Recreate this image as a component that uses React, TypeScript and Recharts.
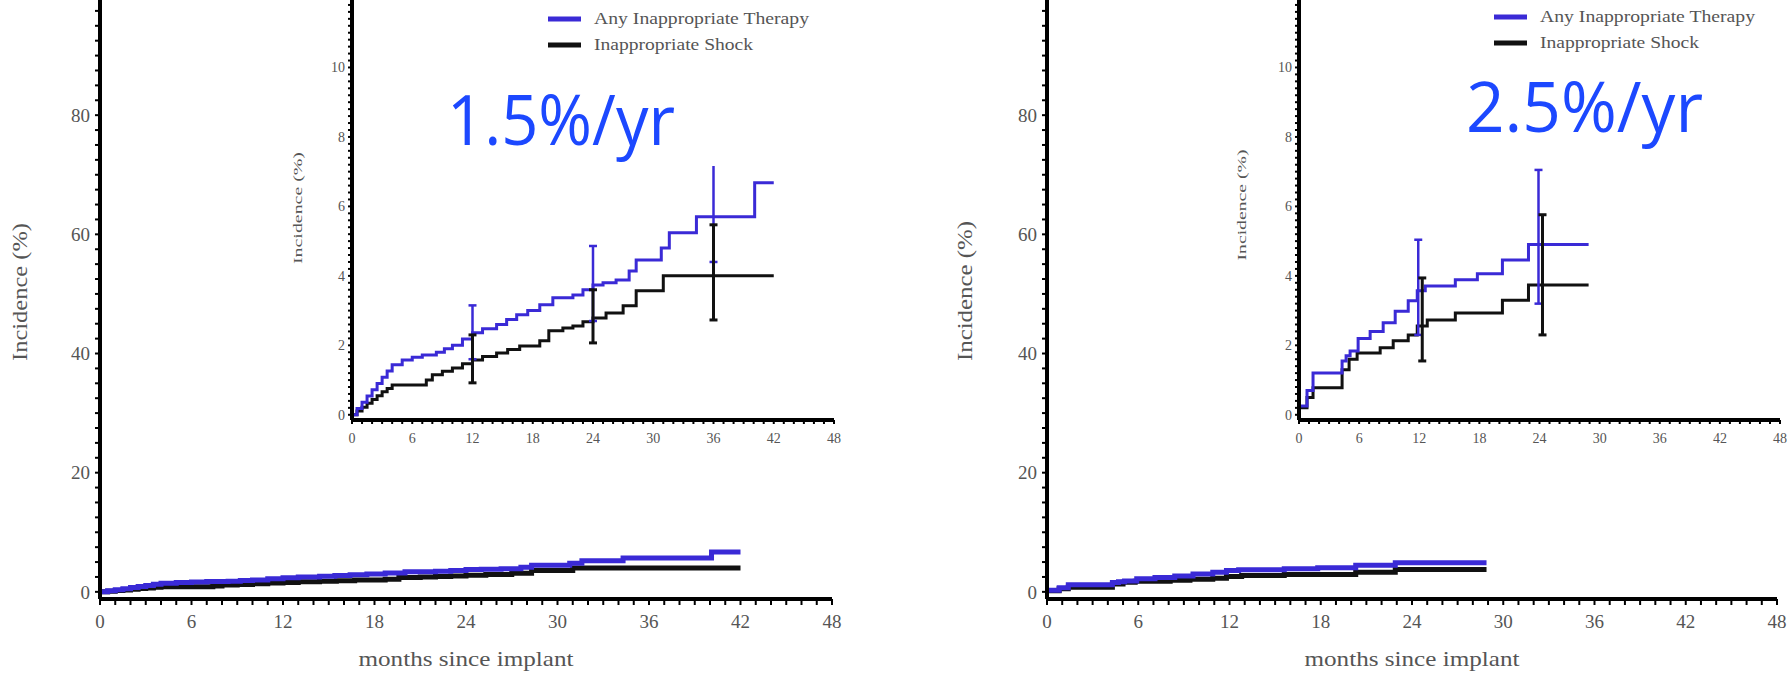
import { ComposedChart, Line, Scatter, ErrorBar, XAxis, YAxis } from 'recharts';

const BLUE = '#3a2ad6';
const RATE_BLUE = '#1c48ff';
const INK = '#111111';
const GREY = '#555555';
const SERIF = '"Liberation Serif", "Times New Roman", serif';

// tick labels
const X_LABELS = [0, 6, 12, 18, 24, 30, 36, 42, 48];
const MAIN_Y_LABELS = [0, 20, 40, 60, 80];
const INSET_Y_LABELS = [0, 2, 4, 6, 8, 10];

// left panel: Any Inappropriate Therapy (months, %)
const leftTherapyMonths = [0, 0.5, 1, 1.5, 2, 2.5, 3, 3.5, 4, 5, 6, 7, 8.4, 9.2, 10, 11, 12, 13, 14.4, 15.4, 16.4, 17.5, 18.7, 20, 22, 23, 24, 25, 26.3, 27.6, 28.3, 30.8, 31.6, 34.3, 40.1, 42];
const leftTherapyPct = [0, 0.18, 0.36, 0.54, 0.72, 0.9, 1.08, 1.26, 1.44, 1.58, 1.66, 1.72, 1.8, 1.9, 2.0, 2.18, 2.36, 2.48, 2.6, 2.74, 2.88, 3.0, 3.17, 3.37, 3.45, 3.6, 3.74, 3.8, 3.88, 4.14, 4.46, 4.8, 5.24, 5.7, 6.68, 6.68];
// left panel: Inappropriate Shock
const leftShockMonths = [0, 0.5, 1, 1.5, 2, 2.5, 3, 3.5, 4, 7.4, 8, 9, 10, 11, 12, 13, 14.4, 15.5, 16.7, 18.7, 19.6, 21, 22, 23, 24, 25.3, 27, 28.3, 31, 42];
const leftShockPct = [0, 0.11, 0.22, 0.33, 0.44, 0.55, 0.66, 0.76, 0.86, 1.0, 1.15, 1.25, 1.35, 1.47, 1.58, 1.68, 1.78, 1.88, 1.98, 2.13, 2.42, 2.5, 2.56, 2.68, 2.79, 2.93, 3.14, 3.57, 4.0, 4.0];
// left panel confidence bars
const leftTherapyBarMonths = [12, 24, 36];
const leftTherapyBarLow = [1.6, 2.7, 4.4];
const leftTherapyBarHigh = [3.15, 4.86, 7.6];
const leftShockBarMonths = [12, 24, 36];
const leftShockBarLow = [0.92, 2.07, 2.73];
const leftShockBarHigh = [2.3, 3.6, 5.47];

// right panel: Any Inappropriate Therapy
const rightTherapyMonths = [0, 0.8, 1.4, 4.3, 4.7, 5.1, 5.9, 7.1, 8.4, 9.6, 10.9, 11.8, 12.6, 15.6, 17.8, 20.3, 22.9, 28.9];
const rightTherapyPct = [0.25, 0.7, 1.2, 1.55, 1.7, 1.84, 2.2, 2.4, 2.65, 2.98, 3.28, 3.57, 3.71, 3.89, 4.06, 4.46, 4.9, 4.9];
// right panel: Inappropriate Shock
const rightShockMonths = [0, 0.8, 1.4, 4.3, 5, 5.8, 8.1, 9.4, 10.9, 11.8, 12.8, 15.6, 20.3, 22.9, 28.9];
const rightShockPct = [0.2, 0.5, 0.78, 1.3, 1.6, 1.78, 1.93, 2.13, 2.3, 2.56, 2.73, 2.93, 3.3, 3.74, 3.74];
// right panel confidence bars
const rightTherapyBarMonths = [11.9, 23.9];
const rightTherapyBarLow = [2.3, 3.2];
const rightTherapyBarHigh = [5.04, 7.05];
const rightShockBarMonths = [12.3, 24.3];
const rightShockBarLow = [1.55, 2.3];
const rightShockBarHigh = [3.94, 5.76];

const X_TICKS = Array.from({ length: 49 }, (_, i) => i);
const MAIN_Y_TICKS = Array.from({ length: 41 }, (_, i) => i * 2.5);
const INSET_Y_TICKS = Array.from({ length: 61 }, (_, i) => Math.round(i * 2) / 10);

type Pt = { m: number; v: number };
type BarPt = { m: number; v: number; err: [number, number] };

const steps = (months: number[], pct: number[]): Pt[] => months.map((m, i) => ({ m, v: pct[i] }));

// value at a month, with asymmetric error
const bars = (months: number[], lo: number[], hi: number[], curveM: number[], curveV: number[]): BarPt[] =>
  months.map((m, i) => {
    let v = curveV[0];
    curveM.forEach((cm, j) => { if (cm <= m + 0.35) v = curveV[j]; });
    return { m, v, err: [v - lo[i], hi[i] - v] };
  });

const leftTherapy = steps(leftTherapyMonths, leftTherapyPct);
const leftShock = steps(leftShockMonths, leftShockPct);
const rightTherapy = steps(rightTherapyMonths, rightTherapyPct);
const rightShock = steps(rightShockMonths, rightShockPct);
const leftTherapyBars = bars(leftTherapyBarMonths, leftTherapyBarLow, leftTherapyBarHigh, leftTherapyMonths, leftTherapyPct);
const leftShockBars = bars(leftShockBarMonths, leftShockBarLow, leftShockBarHigh, leftShockMonths, leftShockPct);
const rightTherapyBars = bars(rightTherapyBarMonths, rightTherapyBarLow, rightTherapyBarHigh, rightTherapyMonths, rightTherapyPct);
const rightShockBars = bars(rightShockBarMonths, rightShockBarLow, rightShockBarHigh, rightShockMonths, rightShockPct);

interface ChartProps {
  left: number;
  top: number;
  width: number;
  height: number;
  yAxisWidth: number;
  xAxisHeight: number;
  inset?: boolean;
  therapy: Pt[];
  shock: Pt[];
  therapyBars?: BarPt[];
  shockBars?: BarPt[];
}

function KMChart({ left, top, width, height, yAxisWidth, xAxisHeight, inset, therapy, shock, therapyBars, shockBars }: ChartProps) {
  const fontSize = inset ? 14 : 19;
  const yTicks = inset ? INSET_Y_TICKS : MAIN_Y_TICKS;
  const yLabels = inset ? INSET_Y_LABELS : MAIN_Y_LABELS;
  const lw = inset ? 3 : 5;
  return (
    <div style={{ position: 'absolute', left, top }}>
      <ComposedChart width={width} height={height} margin={{ top: 0, right: 10, bottom: 0, left: 0 }}>
        <XAxis
          type="number" dataKey="m" domain={[0, 48]} ticks={X_TICKS} interval={0} allowDataOverflow
          height={xAxisHeight}
          tickFormatter={(v) => (X_LABELS.includes(v) ? String(v) : '')}
          axisLine={{ stroke: '#000', strokeWidth: 4 }}
          tickLine={{ stroke: '#000', strokeWidth: 2 }}
          tickSize={inset ? 4 : 6} tickMargin={inset ? 9 : 10}
          tick={{ fill: GREY, fontSize, fontFamily: SERIF }}
        />
        <YAxis
          type="number" dataKey="v" domain={inset ? [-0.15, 12] : [-1.2, 100]} ticks={yTicks} interval={0} allowDataOverflow
          width={yAxisWidth}
          tickFormatter={(v) => (yLabels.some(l => Math.abs(l - v) < 1e-6) ? String(Math.round(v)) : '')}
          axisLine={{ stroke: '#000', strokeWidth: 4 }}
          tickLine={{ stroke: '#000', strokeWidth: 2 }}
          tickSize={inset ? 4 : 5} tickMargin={inset ? 3 : 5}
          tick={{ fill: GREY, fontSize, fontFamily: SERIF }}
        />
        <Line data={shock} dataKey="v" type="stepAfter" stroke={INK} strokeWidth={lw} dot={false} isAnimationActive={false} />
        <Line data={therapy} dataKey="v" type="stepAfter" stroke={BLUE} strokeWidth={lw} dot={false} isAnimationActive={false} />
        {therapyBars && (
          <Scatter data={therapyBars} dataKey="v" shape={() => <g />} isAnimationActive={false}>
            <ErrorBar dataKey="err" direction="y" width={4} stroke={BLUE} strokeWidth={2.5} />
          </Scatter>
        )}
        {shockBars && (
          <Scatter data={shockBars} dataKey="v" shape={() => <g />} isAnimationActive={false}>
            <ErrorBar dataKey="err" direction="y" width={4} stroke={INK} strokeWidth={3} />
          </Scatter>
        )}
      </ComposedChart>
    </div>
  );
}

function VLabel({ x, y, size, len, text }: { x: number; y: number; size: number; len: number; text: string }) {
  return (
    <text transform={`translate(${x},${y}) rotate(-90)`} textAnchor="middle" dominantBaseline="central"
      fontFamily={SERIF} fontSize={size} fill={GREY} textLength={len} lengthAdjust="spacingAndGlyphs">{text}</text>
  );
}

function LegendBlock({ x, y }: { x: number; y: number }) {
  return (
    <g>
      <line x1={x} x2={x + 33} y1={y} y2={y} stroke={BLUE} strokeWidth={5} />
      <text x={x + 46} y={y + 5} fontFamily={SERIF} fontSize={16} fill={GREY} textLength={215} lengthAdjust="spacingAndGlyphs">Any Inappropriate Therapy</text>
      <line x1={x} x2={x + 33} y1={y + 26} y2={y + 26} stroke={INK} strokeWidth={5} />
      <text x={x + 46} y={y + 31} fontFamily={SERIF} fontSize={16} fill={GREY} textLength={159} lengthAdjust="spacingAndGlyphs">Inappropriate Shock</text>
    </g>
  );
}

export default function App() {
  return (
    <div style={{ position: 'absolute', left: 0, top: 0, width: 1787, height: 678, overflow: 'hidden', background: '#fff' }}>
      {/* left panel */}
      <KMChart left={0} top={-4} width={842} height={682} yAxisWidth={100} xAxisHeight={79}
        therapy={leftTherapy} shock={leftShock} />
      <KMChart left={312} top={-2} width={532} height={452} yAxisWidth={40} xAxisHeight={30} inset
        therapy={leftTherapy} shock={leftShock} therapyBars={leftTherapyBars} shockBars={leftShockBars} />

      {/* right panel */}
      <KMChart left={947} top={-4} width={840} height={682} yAxisWidth={100} xAxisHeight={79}
        therapy={rightTherapy} shock={rightShock} />
      <KMChart left={1259} top={-2} width={531} height={452} yAxisWidth={40} xAxisHeight={30} inset
        therapy={rightTherapy} shock={rightShock} therapyBars={rightTherapyBars} shockBars={rightShockBars} />

      <svg width={1787} height={678} style={{ position: 'absolute', left: 0, top: 0, pointerEvents: 'none' }}>
        <VLabel x={20} y={292} size={20} len={138} text="Incidence (%)" />
        <VLabel x={297} y={208} size={13} len={112} text="Incidence (%)" />
        <VLabel x={965} y={291} size={20} len={140} text="Incidence (%)" />
        <VLabel x={1241} y={205} size={13} len={111} text="Incidence (%)" />
        <text x={466} y={666} textAnchor="middle" fontFamily={SERIF} fontSize={21} fill={GREY} textLength={215} lengthAdjust="spacingAndGlyphs">months since implant</text>
        <text x={1412} y={666} textAnchor="middle" fontFamily={SERIF} fontSize={21} fill={GREY} textLength={215} lengthAdjust="spacingAndGlyphs">months since implant</text>

        <LegendBlock x={548} y={19} />
        <LegendBlock x={1494} y={17} />

        <rect x={440} y={75} width={290} height={91} fill="#fff" />
        <text x={447} y={145} fontFamily={'"Comic Sans MS", "Open Sans", sans-serif'} fontSize={70} fill={RATE_BLUE} textLength={228} lengthAdjust="spacingAndGlyphs">1.5%/yr</text>
        <rect x={1460} y={65} width={250} height={90} fill="#fff" />
        <text x={1466} y={132} fontFamily={'"Comic Sans MS", "Open Sans", sans-serif'} fontSize={70} fill={RATE_BLUE} textLength={237} lengthAdjust="spacingAndGlyphs">2.5%/yr</text>
      </svg>
    </div>
  );
}
